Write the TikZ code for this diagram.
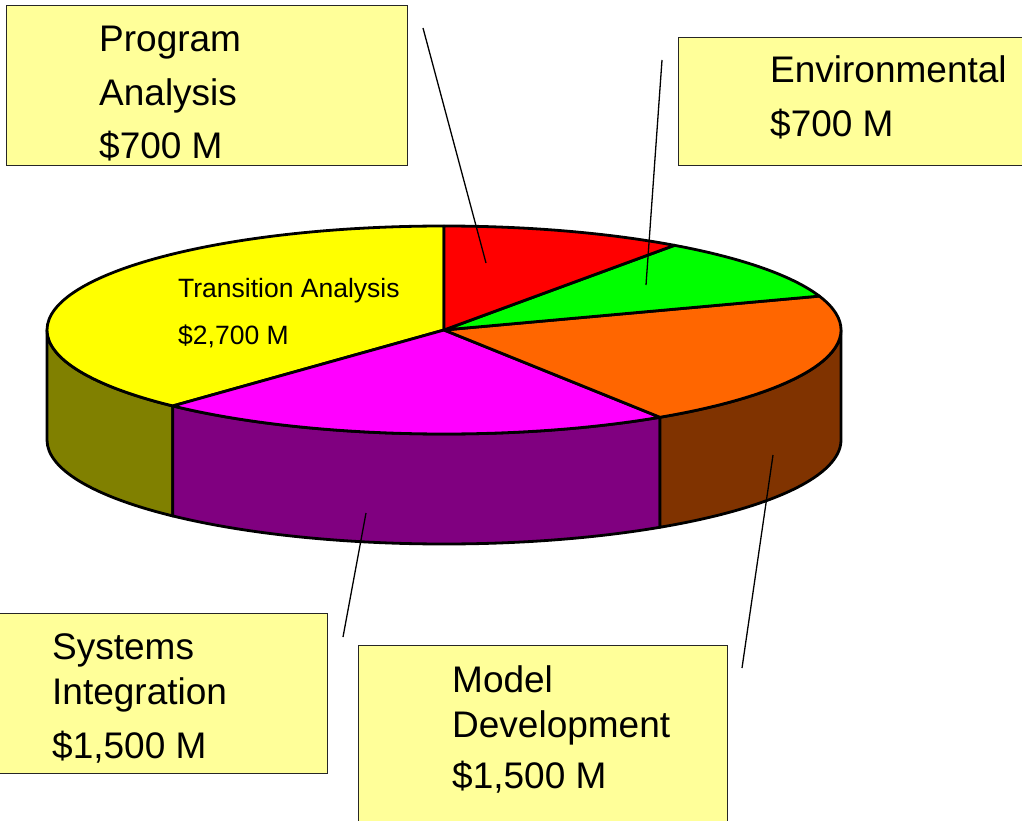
\documentclass[tikz,border=0pt]{standalone}
\usepackage{fontspec}
\setmainfont{Liberation Sans}
\definecolor{boxyellow}{HTML}{FFFF99}
\definecolor{taTop}{HTML}{FFFF00}
\definecolor{taSide}{HTML}{808000}
\definecolor{paTop}{HTML}{FF0000}
\definecolor{envTop}{HTML}{00FF00}
\definecolor{mdTop}{HTML}{FF6600}
\definecolor{mdSide}{HTML}{803300}
\definecolor{siTop}{HTML}{FF00FF}
\definecolor{siSide}{HTML}{800080}
\tikzset{
  slice/.style={draw=black, line width=2.8pt, line join=round},
  labelbox/.style={draw=black!85, fill=boxyellow, line width=1.4pt, anchor=north west, inner sep=0pt},
  bigtext/.style={anchor=base west, inner sep=0pt, font=\fontsize{37}{40}\selectfont},
  smalltext/.style={anchor=base west, inner sep=0pt, font=\fontsize{26.5}{30}\selectfont},
  leader/.style={draw=black, line width=1.3pt}
}
\newcommand{\pieSideA}[3]{% start, end, colour
  \filldraw[slice, fill=#3] (#1:397 and 104) arc[start angle=#1, end angle=#2, x radius=397, y radius=104] -- ++(0,-110) arc[start angle=#2, end angle=#1, x radius=397, y radius=104] -- cycle;}
\newcommand{\pieTopA}[3]{%
  \filldraw[slice, fill=#3] (0,0) -- (#1:397 and 104) arc[start angle=#1, end angle=#2, x radius=397, y radius=104] -- cycle;}
\begin{document}
\begin{tikzpicture}[x=1pt,y=1pt]
\useasboundingbox (0,0) rectangle (1022,-821);
% pie
\begin{scope}[shift={(444,-330)}]
  \pieSideA{180}{226.901}{taSide}
  \pieSideA{226.901}{302.958}{siSide}
  \pieSideA{302.958}{360}{mdSide}
  \pieTopA{90}{226.901}{taTop}
  \pieTopA{226.901}{302.958}{siTop}
  \pieTopA{302.958}{379.014}{mdTop}
  \pieTopA{19.014}{54.507}{envTop}
  \pieTopA{54.507}{90}{paTop}
\end{scope}
% inner label
\node[smalltext] (taL1) at (178,-297) {Transition Analysis};
\node[smalltext] (taL2) at (178,-344) {\$2,700 M};
% boxes
\node[labelbox, minimum width=401pt, minimum height=160pt] (pabox) at (6,-5) {};
\node[labelbox, minimum width=352pt, minimum height=128pt] (envbox) at (678,-37) {};
\node[labelbox, minimum width=330pt, minimum height=160pt] (sibox) at (-3,-613) {};
\node[labelbox, minimum width=369pt, minimum height=190pt] (mdbox) at (358,-645) {};
% box texts
\node[bigtext] (paL1) at (99,-52) {Program};
\node[bigtext] (paL2) at (99,-106) {Analysis};
\node[bigtext] (paL3) at (99,-159) {\$700 M};
\node[bigtext] (envL1) at (770,-83) {Environmental};
\node[bigtext] (envL2) at (770,-137) {\$700 M};
\node[bigtext] (siL1) at (52,-659) {Systems};
\node[bigtext] (siL2) at (52,-704) {Integration};
\node[bigtext] (siL3) at (52,-758) {\$1,500 M};
\node[bigtext] (mdL1) at (452,-692) {Model};
\node[bigtext] (mdL2) at (452,-737) {Development};
\node[bigtext] (mdL3) at (452,-788) {\$1,500 M};
% leader lines
\coordinate (paA) at (423,-28);  \coordinate (paB) at (486,-263);
\coordinate (envA) at (662,-60); \coordinate (envB) at (646,-285);
\coordinate (mdA) at (773,-455); \coordinate (mdB) at (742,-668);
\coordinate (siA) at (366,-513); \coordinate (siB) at (343,-637);
\draw[leader] (paA) -- (paB);
\draw[leader] (envA) -- (envB);
\draw[leader] (mdA) -- (mdB);
\draw[leader] (siA) -- (siB);
\end{tikzpicture}
\end{document}
